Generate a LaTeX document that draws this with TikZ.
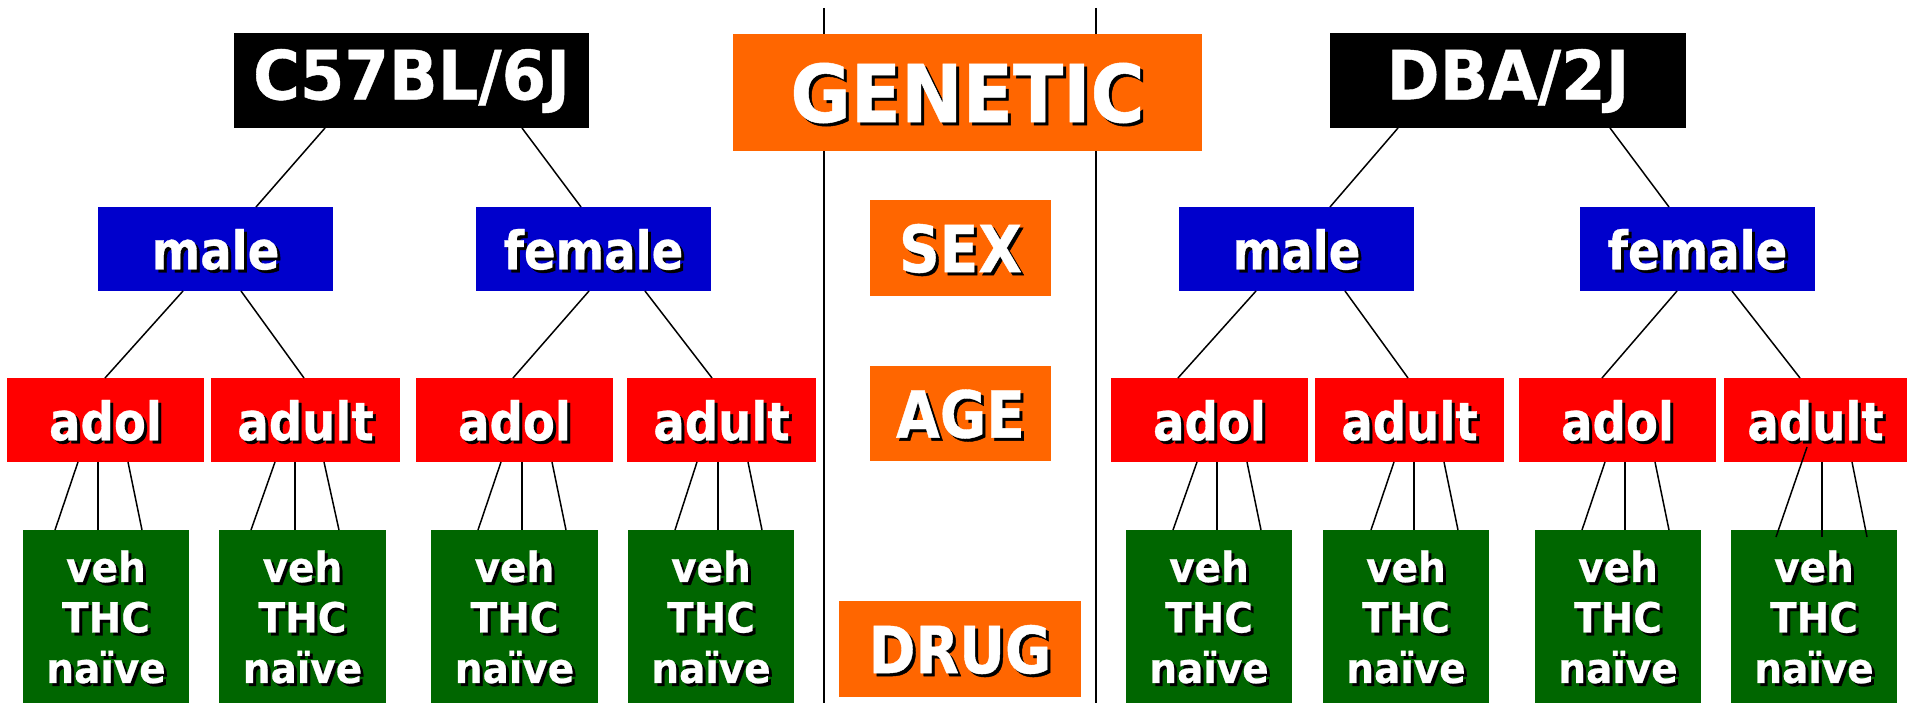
\documentclass[tikz,border=0pt]{standalone}
\usepackage{fontspec}
\usetikzlibrary{calc}
\newfontfamily\fStrain{DejaVu Sans Bold}[FakeStretch=0.94,FakeBold=0.6]
\newfontfamily\fGen{DejaVu Sans Bold}[FakeStretch=0.92,FakeBold=0.6]
\newfontfamily\fFac{DejaVu Sans Bold}[FakeStretch=0.87,FakeBold=0.6]
\newfontfamily\fTier{DejaVu Sans Bold}[FakeStretch=0.88,FakeBold=0.6]
\newfontfamily\fGrp{DejaVu Sans Bold}[FakeStretch=0.94,FakeBold=0.6]
\definecolor{facorange}{HTML}{FF6600}
\definecolor{sexblue}{HTML}{0000CC}
\definecolor{agered}{HTML}{FF0000}
\definecolor{druggreen}{HTML}{006600}
\newcommand\shd[1]{\leavevmode\raisebox{-2pt}[\height][\depth]{\rlap{\kern3pt\raisebox{-3pt}{\textcolor{black}{#1}}}#1}}
\newcommand\mkbox[7]{\node[#1, minimum width={#5-#3}, minimum height={#6-#4}] (#2) at (#3,#4) {#7};}
\newcommand\lnk[4]{\draw[link] ($(#1.south west)+(#2,0)$) -- ($(#3.north west)+(#4,0)$);}
\tikzset{
  bx/.style={rectangle, inner sep=0pt, outer sep=0pt, anchor=north west, text=white},
  strainbox/.style={bx, fill=black, font=\fStrain\fontsize{68}{70}\selectfont},
  genbox/.style={bx, fill=facorange, font=\fGen\fontsize{80}{84}\selectfont},
  facbox/.style={bx, fill=facorange, font=\fFac\fontsize{65}{68}\selectfont},
  sexbox/.style={bx, fill=sexblue, font=\fTier\fontsize{53}{56}\selectfont},
  agebox/.style={bx, fill=agered, font=\fTier\fontsize{53}{56}\selectfont},
  grpbox/.style={bx, fill=druggreen, align=center, font=\fGrp\fontsize{41.5}{50.5}\selectfont},
  link/.style={line width=1.5pt, draw=black},
  sepline/.style={line width=2pt, draw=black},
}
\newcommand\grp{\shd{veh}\\\shd{THC}\\\shd{naïve}}
\begin{document}
\begin{tikzpicture}[x=1pt,y=-1pt]
\useasboundingbox (0,0) rectangle (1907,703);
\fill[white] (0,0) rectangle (1907,703);
% separators
\coordinate (s1t) at (824,8);
\coordinate (s1b) at (824,703);
\coordinate (s2t) at (1096,8);
\coordinate (s2b) at (1096,703);
\draw[sepline] (s1t) -- (s1b);
\draw[sepline] (s2t) -- (s2b);
% factor column
\mkbox{genbox}{gen}{733}{34}{1202}{151}{\shd{GENETIC}}
\mkbox{facbox}{sex}{870}{200}{1051}{296}{\shd{SEX}}
\mkbox{facbox}{age}{870}{366}{1051}{461}{\shd{AGE}}
\mkbox{facbox}{drug}{839}{601}{1081}{697}{\shd{DRUG}}
% strains
\mkbox{strainbox}{c57}{234}{33}{589}{128}{\shd{C57BL/6J}}
\mkbox{strainbox}{dba}{1330}{33}{1686}{128}{\shd{DBA/2J}}
% sexes
\mkbox{sexbox}{m1}{98}{207}{333}{291}{\shd{male}}
\mkbox{sexbox}{f1}{476}{207}{711}{291}{\shd{female}}
\mkbox{sexbox}{m2}{1179}{207}{1414}{291}{\shd{male}}
\mkbox{sexbox}{f2}{1580}{207}{1815}{291}{\shd{female}}
% ages
\mkbox{agebox}{r1}{7}{378}{204}{462}{\shd{adol}}
\mkbox{agebox}{r2}{211}{378}{400}{462}{\shd{adult}}
\mkbox{agebox}{r3}{416}{378}{613}{462}{\shd{adol}}
\mkbox{agebox}{r4}{627}{378}{816}{462}{\shd{adult}}
\mkbox{agebox}{r5}{1111}{378}{1308}{462}{\shd{adol}}
\mkbox{agebox}{r6}{1315}{378}{1504}{462}{\shd{adult}}
\mkbox{agebox}{r7}{1519}{378}{1716}{462}{\shd{adol}}
\mkbox{agebox}{r8}{1724}{378}{1907}{462}{\shd{adult}}
% drug groups
\mkbox{grpbox}{g1}{23}{530}{189}{703}{\grp}
\mkbox{grpbox}{g2}{219}{530}{386}{703}{\grp}
\mkbox{grpbox}{g3}{431}{530}{598}{703}{\grp}
\mkbox{grpbox}{g4}{628}{530}{794}{703}{\grp}
\mkbox{grpbox}{g5}{1126}{530}{1292}{703}{\grp}
\mkbox{grpbox}{g6}{1323}{530}{1489}{703}{\grp}
\mkbox{grpbox}{g7}{1535}{530}{1701}{703}{\grp}
\mkbox{grpbox}{g8}{1731}{530}{1897}{703}{\grp}
% connectors: strain -> sex
\lnk{c57}{91}{m1}{158}
\lnk{c57}{288}{f1}{105}
\lnk{dba}{68}{m2}{151}
\lnk{dba}{280}{f2}{89}
% sex -> age
\lnk{m1}{85}{r1}{98}
\lnk{m1}{143}{r2}{93}
\lnk{f1}{113}{r3}{97}
\lnk{f1}{169}{r4}{85}
\lnk{m2}{77}{r5}{67}
\lnk{m2}{166}{r6}{93}
\lnk{f2}{97}{r7}{83}
\lnk{f2}{152}{r8}{76}
% age -> drug
\lnk{r1}{71}{g1}{32}\lnk{r1}{91}{g1}{75}\lnk{r1}{121}{g1}{119}
\lnk{r2}{64}{g2}{32}\lnk{r2}{84}{g2}{76}\lnk{r2}{113}{g2}{120}
\lnk{r3}{85}{g3}{47}\lnk{r3}{106}{g3}{91}\lnk{r3}{136}{g3}{135}
\lnk{r4}{70}{g4}{47}\lnk{r4}{91}{g4}{90}\lnk{r4}{121}{g4}{134}
\lnk{r5}{86}{g5}{47}\lnk{r5}{106}{g5}{91}\lnk{r5}{136}{g5}{135}
\lnk{r6}{79}{g6}{48}\lnk{r6}{99}{g6}{91}\lnk{r6}{129}{g6}{135}
\lnk{r7}{86}{g7}{47}\lnk{r7}{106}{g7}{90}\lnk{r7}{136}{g7}{134}
\draw[link] ($(r8.south west)+(83,-15)$) -- ($(g8.north west)+(45,7)$);
\draw[link] ($(r8.south west)+(98,0)$) -- ($(g8.north west)+(91,7)$);
\draw[link] ($(r8.south west)+(128,0)$) -- ($(g8.north west)+(136,7)$);
\end{tikzpicture}
\end{document}
